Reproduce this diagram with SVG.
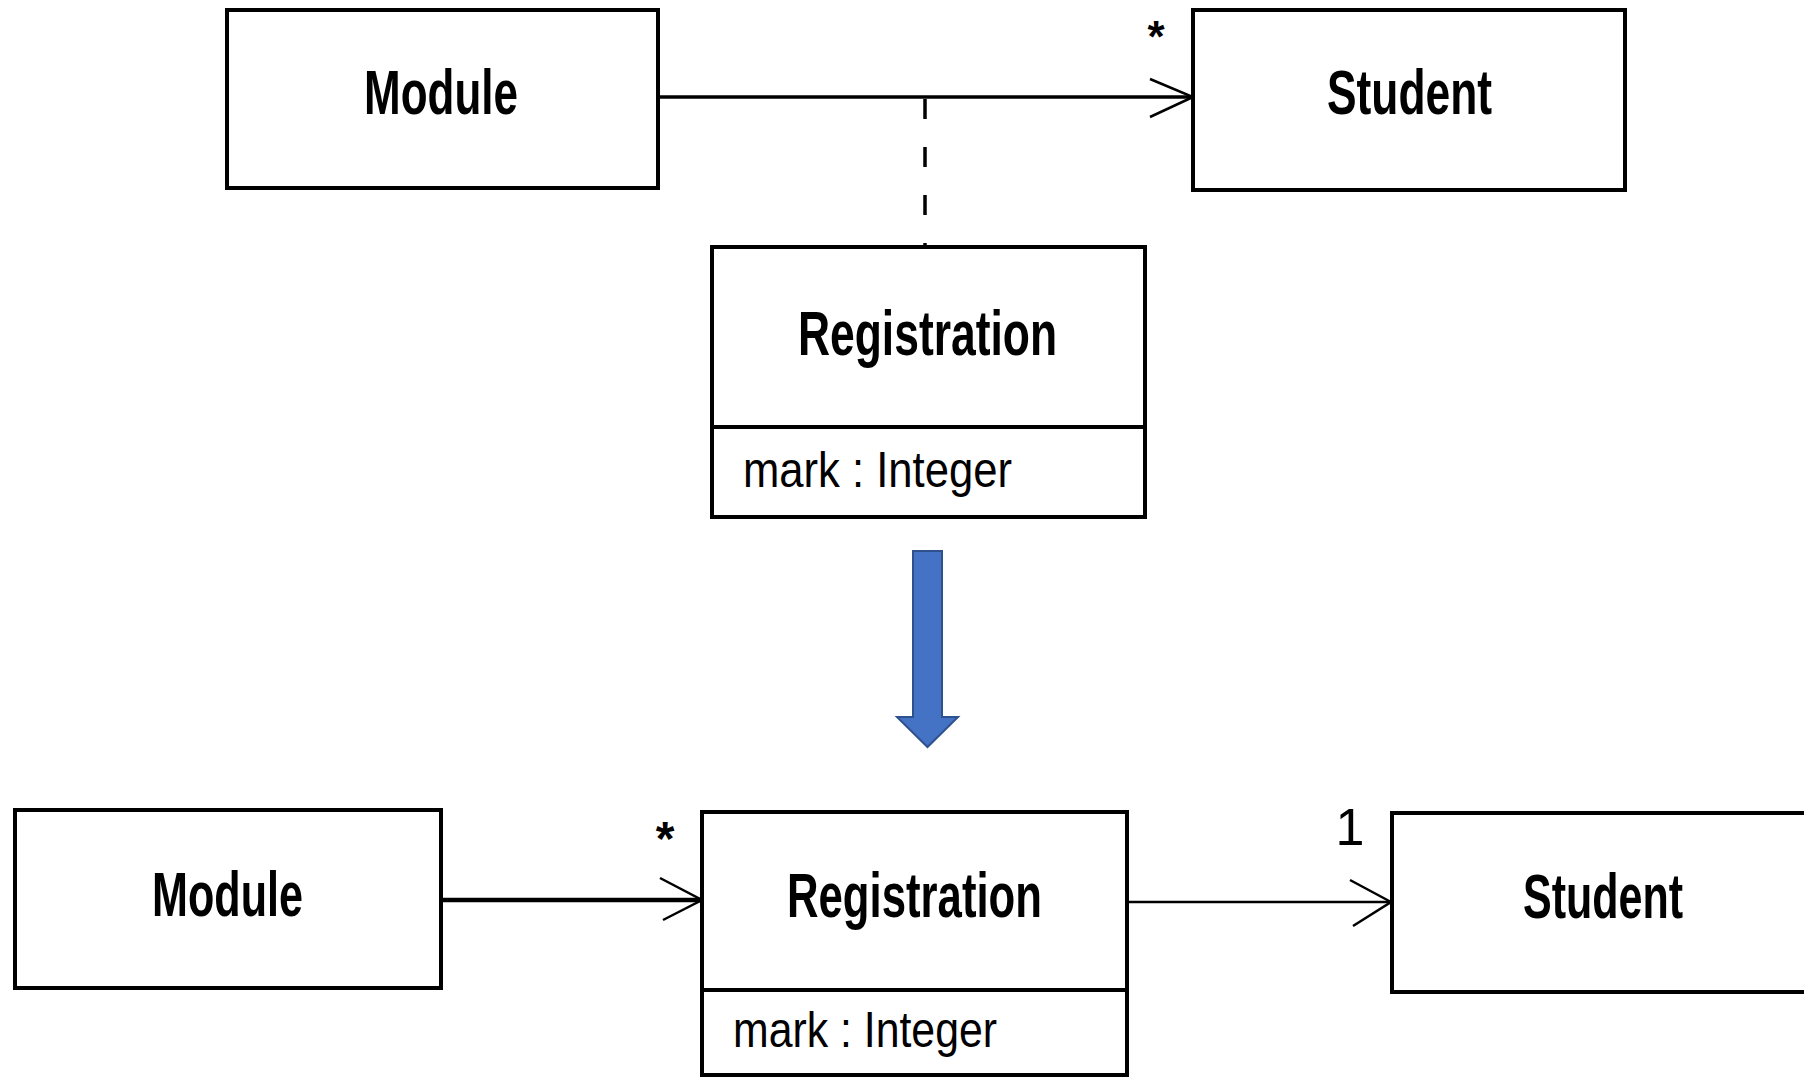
<svg xmlns="http://www.w3.org/2000/svg" width="1804" height="1078" viewBox="0 0 1804 1078">
  <style>
    .box { fill: #ffffff; stroke: #000000; stroke-width: 4; }
    .div { stroke: #000000; stroke-width: 4; }
    .name { font-family: "Liberation Sans", Arial, sans-serif; font-weight: bold; font-size: 63px; fill: #000000; }
    .attr { font-family: "Liberation Sans", Arial, sans-serif; font-size: 50px; fill: #000000; }
    .mult { font-family: "Liberation Sans", Arial, sans-serif; font-weight: bold; fill: #000000; }
    .line { fill: none; stroke: #000000; }
    .head { fill: none; stroke: #000000; stroke-width: 2.5; stroke-linejoin: miter; }
  </style>
  <rect x="0" y="0" width="1804" height="1078" fill="#ffffff"/>

  <g id="connectors">
    <line class="line" x1="658" y1="97" x2="1193" y2="97" stroke-width="3.5"/>
    <polyline class="head" points="1150,79 1193,97 1150,117"/>
    <line class="line" x1="925" y1="99" x2="925" y2="247" stroke-width="3.5" stroke-dasharray="20 28"/>

    <line class="line" x1="441" y1="900" x2="702" y2="900" stroke-width="4.5"/>
    <polyline class="head" points="660,878 702,900 663,920"/>
    <line class="line" x1="1127" y1="902" x2="1391" y2="902" stroke-width="2.5"/>
    <polyline class="head" points="1350,880 1391,902 1353,926"/>

    <polygon id="transform-arrow" points="913,551 942,551 942,717 958,717 927.5,747 897,717 913,717" fill="#4472C4" stroke="#2F528F" stroke-width="2"/>
  </g>

  <g id="module-top">
    <rect class="box" x="227" y="10" width="431" height="178"/>
    <text class="name" x="364" y="114" textLength="154" lengthAdjust="spacingAndGlyphs">Module</text>
  </g>

  <g id="student-top">
    <rect class="box" x="1193" y="10" width="432" height="180"/>
    <text class="name" x="1327" y="114" textLength="165" lengthAdjust="spacingAndGlyphs">Student</text>
    <text class="mult" x="1156" y="52" font-size="44" text-anchor="middle">*</text>
  </g>

  <g id="registration-top">
    <rect class="box" x="712" y="247" width="433" height="270"/>
    <line class="div" x1="712" y1="427" x2="1145" y2="427"/>
    <text class="name" x="798" y="355" textLength="259" lengthAdjust="spacingAndGlyphs">Registration</text>
    <text class="attr" x="743" y="487" font-size="47" textLength="269" lengthAdjust="spacingAndGlyphs">mark : Integer</text>
  </g>

  <g id="module-bottom">
    <rect class="box" x="15" y="810" width="426" height="178"/>
    <text class="name" x="152" y="916" textLength="151" lengthAdjust="spacingAndGlyphs">Module</text>
  </g>

  <g id="registration-bottom">
    <rect class="box" x="702" y="812" width="425" height="263"/>
    <line class="div" x1="702" y1="990" x2="1127" y2="990"/>
    <text class="name" x="787" y="917" textLength="255" lengthAdjust="spacingAndGlyphs">Registration</text>
    <text class="attr" x="733" y="1047" font-size="52" textLength="264" lengthAdjust="spacingAndGlyphs">mark : Integer</text>
    <text class="mult" x="665" y="855" font-size="48" text-anchor="middle">*</text>
  </g>

  <g id="student-bottom">
    <rect class="box" x="1392" y="813" width="430" height="179"/>
    <text class="name" x="1523" y="918" textLength="160" lengthAdjust="spacingAndGlyphs">Student</text>
    <text x="1350" y="845" font-family="Liberation Sans, Arial, sans-serif" font-size="52" text-anchor="middle" fill="#000000">1</text>
  </g>
</svg>
